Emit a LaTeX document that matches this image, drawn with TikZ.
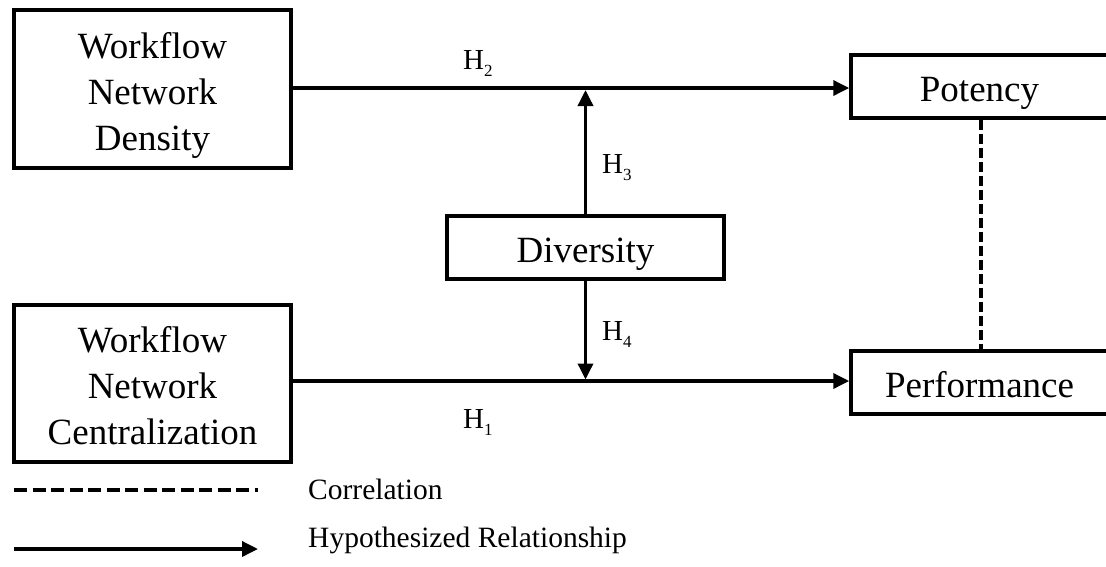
\documentclass[tikz,border=0pt]{standalone}
\usepackage{fontspec}
\setmainfont{Liberation Serif}
\usetikzlibrary{arrows.meta}
\tikzset{
  box/.style={draw, line width=3.5pt, inner sep=0pt, align=center,
    font=\fontsize{37}{46}\selectfont},
  rel/.style={line width=3.5pt, -{Triangle[length=16pt,width=15pt]}},
  corr/.style={line width=4pt, dash pattern=on 10pt off 4pt},
  hlab/.style={font=\fontsize{29}{32}\selectfont, inner sep=0pt, anchor=base west},
  legtext/.style={font=\fontsize{29.5}{32}\selectfont, anchor=base west, inner sep=0pt}
}
\newcommand{\hyp}[1]{H{\fontsize{17}{20}\selectfont\raisebox{-7pt}{#1}}}
\newcommand{\bx}[1]{\raisebox{-6pt}[\height][\depth]{\begin{tabular}{@{}c@{}}#1\end{tabular}}}
\begin{document}
\begin{tikzpicture}[x=1pt,y=-1pt]
\useasboundingbox (0,0) rectangle (1106,566);
\node[box, minimum width=277pt, minimum height=158pt] (wnd) at (152.5,89) {\bx{Workflow\\Network\\Density}};
\node[box, minimum width=277pt, minimum height=157pt] (wnc) at (152.5,383.5) {\bx{Workflow\\Network\\Centralization}};
\node[box, minimum width=257pt, minimum height=63pt] (pot) at (979.5,86.5) {\bx{Potency}};
\node[box, minimum width=257pt, minimum height=63pt] (perf) at (979.5,382.5) {\bx{Performance}};
\node[box, minimum width=277pt, minimum height=63pt] (div) at (585.5,247.5) {\bx{Diversity}};
% main arrows
\draw[rel] (wnd.east |- 0,88) -- (pot.west |- 0,88);
\draw[rel] (wnc.east |- 0,381) -- (perf.west |- 0,381);
\coordinate (j2) at (div.north |- 0,90);
\coordinate (j1) at (div.south |- 0,379.5);
\draw[rel] (div.north) -- (j2);
\draw[rel] (div.south) -- (j1);
\draw[corr] (pot.south -| 981,0) -- (perf.north -| 981,0);
% labels
\node[hlab] (h2) at (463,69) {\hyp{2}};
\node[hlab] (h3) at (602,173) {\hyp{3}};
\node[hlab] (h4) at (602,340) {\hyp{4}};
\node[hlab] (h1) at (463,428) {\hyp{1}};
% legend
\coordinate (c1) at (14,490);
\coordinate (c2) at (258,490);
\draw[line width=4pt, dash pattern=on 13pt off 5.5pt] (c1) -- (c2);
\coordinate (a1) at (14,549);
\coordinate (a2) at (258,549);
\draw[rel] (a1) -- (a2);
\node[legtext] (lc) at (308,499) {Correlation};
\node[legtext] (lh) at (308,547) {Hypothesized Relationship};
\end{tikzpicture}
\end{document}
